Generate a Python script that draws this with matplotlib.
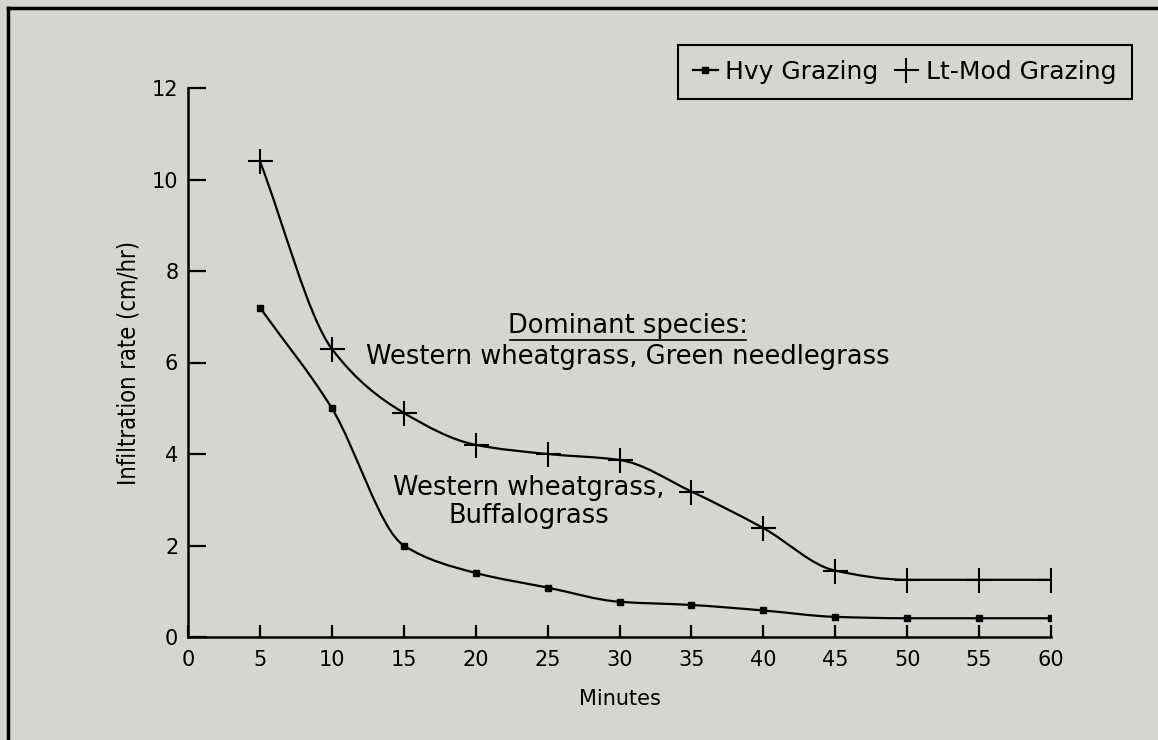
import numpy as np
import matplotlib
matplotlib.use("Agg")
import matplotlib.pyplot as plt
from matplotlib.path import Path
from matplotlib.patches import PathPatch
from matplotlib.lines import Line2D

# values
minutes = [5, 10, 15, 20, 25, 30, 35, 40, 45, 50, 55, 60]
hvy_grazing = [7.2, 5.0, 2.0, 1.4, 1.08, 0.77, 0.7, 0.58, 0.44, 0.41, 0.41, 0.41]
ltmod_grazing = [10.4, 6.3, 4.9, 4.2, 4.0, 3.87, 3.18, 2.38, 1.45, 1.25, 1.25, 1.25]

x_ticks = list(range(0, 61, 5))
y_ticks = list(range(0, 13, 2))
labels = ["Hvy Grazing", "Lt-Mod Grazing"]

bg = "#d5d6d1"


def smooth_path(x, y):
    # monotone cubic through the data points, drawn as bezier segments
    x = np.asarray(x, float)
    y = np.asarray(y, float)
    h = np.diff(x)
    d = np.diff(y) / h
    m = np.zeros_like(y)
    m[0] = d[0]
    m[-1] = d[-1]
    for i in range(1, len(y) - 1):
        if d[i - 1] * d[i] > 0:
            m[i] = 2 / (1 / d[i - 1] + 1 / d[i])
    verts = [(x[0], y[0])]
    codes = [Path.MOVETO]
    for i in range(len(x) - 1):
        verts += [(x[i] + h[i] / 3, y[i] + m[i] * h[i] / 3),
                  (x[i + 1] - h[i] / 3, y[i + 1] - m[i + 1] * h[i] / 3),
                  (x[i + 1], y[i + 1])]
        codes += [Path.CURVE4] * 3
    return Path(verts, codes)


fig = plt.figure(figsize=(11.58, 7.40), dpi=100, facecolor=bg)
ax = fig.add_axes([188 / 1158, 1 - 637 / 740, (1051 - 188) / 1158, (637 - 88) / 740])
ax.set_facecolor(bg)

ax.add_patch(PathPatch(smooth_path(minutes, hvy_grazing), facecolor="none",
                       edgecolor="black", lw=1.6))
ax.add_patch(PathPatch(smooth_path(minutes, ltmod_grazing), facecolor="none",
                       edgecolor="black", lw=1.6))
ax.plot(minutes, hvy_grazing, "s", color="black", ms=5)
ax.plot(minutes, ltmod_grazing, "+", color="black", ms=18, mew=1.5)

ax.set_xlim(0, 60)
ax.set_ylim(0, 12)
ax.set_xticks(x_ticks)
ax.set_yticks(y_ticks)
for s in ["top", "right"]:
    ax.spines[s].set_visible(False)
for s in ["left", "bottom"]:
    ax.spines[s].set_linewidth(1.8)
ax.tick_params(axis="y", direction="in", length=13, width=1.6, pad=7, labelsize=15)
ax.tick_params(axis="x", direction="in", length=9, width=1.6, pad=9, labelsize=15)

ax.set_xlabel("Minutes", fontsize=15, labelpad=14)
ax.set_ylabel("Infiltration rate (cm/hr)", fontstretch="condensed",
              fontsize=17, labelpad=8)

# annotations
ax.text(30.6, 6.8, "Dominant species:", fontsize=18.5, ha="center", va="center")
ax.plot([30.6 - 8.2, 30.6 + 8.2], [6.49, 6.49], color="black", lw=1.2)
ax.text(30.6, 6.12, "Western wheatgrass, Green needlegrass", fontsize=18.5,
        ha="center", va="center")
ax.text(23.7, 2.95, "Western wheatgrass,\nBuffalograss", fontsize=18.5,
        ha="center", va="center", linespacing=1.1)

handles = [Line2D([], [], color="black", marker="s", ms=5, lw=1.6),
           Line2D([], [], color="black", marker="+", ms=18, mew=1.5, lw=0)]
leg = fig.legend(handles, labels, loc="upper right",
                 bbox_to_anchor=(1144 / 1158, 1 - 32 / 740), ncol=2,
                 fontsize=18, frameon=True, fancybox=False, edgecolor="black",
                 facecolor=bg, framealpha=1, handlelength=1.0,
                 handletextpad=0.3, columnspacing=0.6, borderpad=0.6)
leg.get_frame().set_linewidth(1.5)

# scan border on top and left
fig.add_artist(Line2D([8 / 1158, 1], [1 - 8 / 740, 1 - 8 / 740],
                      transform=fig.transFigure, color="black", lw=2.5))
fig.add_artist(Line2D([8 / 1158, 8 / 1158], [0, 1 - 8 / 740],
                      transform=fig.transFigure, color="black", lw=2.5))

fig.savefig("out.png", dpi=100, facecolor=bg)
